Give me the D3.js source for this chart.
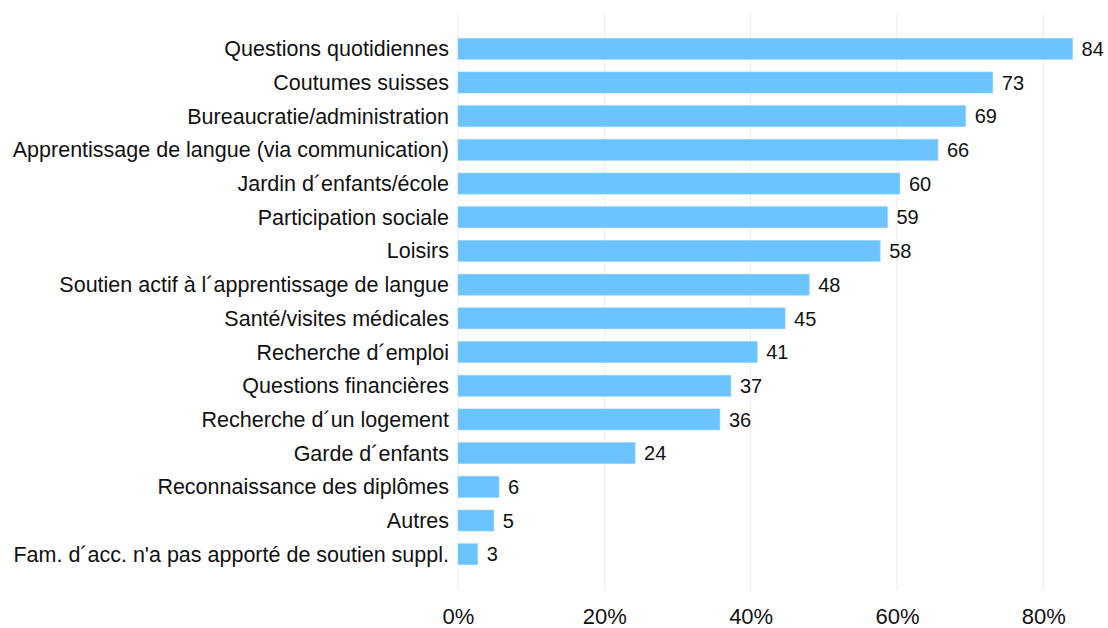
<!DOCTYPE html>
<html><head><meta charset="utf-8">
<script src="https://cdn.jsdelivr.net/npm/d3@7"></script>
<style>body{margin:0;background:#fff;}svg{display:block;font-family:"Liberation Sans",Arial,sans-serif;}</style>
</head><body>
<svg id="c" width="1108" height="628"></svg>
<script>
const categories = ["Questions quotidiennes","Coutumes suisses","Bureaucratie/administration","Apprentissage de langue (via communication)","Jardin d´enfants/école","Participation sociale","Loisirs","Soutien actif à l´apprentissage de langue","Santé/visites médicales","Recherche d´emploi","Questions financières","Recherche d´un logement","Garde d´enfants","Reconnaissance des diplômes","Autres","Fam. d´acc. n'a pas apporté de soutien suppl."];
const values = [84.0,73.1,69.4,65.6,60.4,58.7,57.7,48.0,44.7,40.9,37.3,35.8,24.2,5.6,4.9,2.7];
const tickValues = [0,20,40,60,80];
const tickLabels = ["0%","20%","40%","60%","80%"];

const svg = d3.select("#c");
const x = d3.scaleLinear().domain([0,80]).range([458,1043.3]);
const y = d3.scaleBand().domain(categories).range([13,590]).paddingInner(0.376).paddingOuter(0.75);
const fmt = d3.format(".0f");

svg.append("g").selectAll("line").data(tickValues).join("line")
  .attr("x1",d=>x(d)).attr("x2",d=>x(d)).attr("y1",13).attr("y2",590)
  .attr("stroke","#ececec").attr("stroke-width",1);

svg.append("g").selectAll("rect").data(values).join("rect")
  .attr("x",x(0)).attr("y",(d,i)=>y(categories[i]))
  .attr("width",d=>x(d)-x(0)).attr("height",y.bandwidth())
  .attr("fill","#6bc4ff").attr("stroke","#8fd2ff").attr("stroke-width",0.6);

svg.append("g").selectAll("text").data(values).join("text")
  .attr("x",d=>x(d)+9).attr("y",(d,i)=>y(categories[i])+y.bandwidth()/2)
  .attr("dy","0.36em").attr("font-size",20).attr("fill","#111").text(d=>fmt(d));

svg.append("g").selectAll("text").data(categories).join("text")
  .attr("x",449).attr("y",d=>y(d)+y.bandwidth()/2)
  .attr("dy","0.35em").attr("text-anchor","end").attr("font-size",21.5).attr("fill","#111").text(d=>d);

const ax = svg.append("g").attr("transform","translate(0,596)")
  .call(d3.axisBottom(x).tickValues(tickValues).tickFormat((d,i)=>tickLabels[i]).tickSize(0).tickPadding(12));
ax.select(".domain").remove();
ax.selectAll("text").attr("font-size",22).attr("fill","#111").attr("font-family","Liberation Sans, Arial, sans-serif");
</script>
</body></html>
